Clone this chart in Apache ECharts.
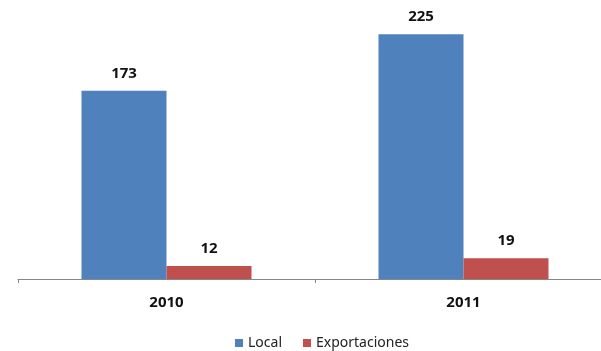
<!DOCTYPE html>
<html>
<head>
<meta charset="utf-8">
<script src="https://cdn.jsdelivr.net/npm/echarts@6/dist/echarts.min.js"></script>
<style>
  html, body { margin: 0; padding: 0; background: #fff; overflow: hidden; }
  /* the plot's right band runs past the window edge, so the canvas is a bit wider */
  #chart { width: 612px; height: 351px; }
</style>
</head>
<body>
<div id="chart"></div>
<script>
// Years on the category axis
const years = ['2010', '2011'];
// Sales by destination
const localValues = [173, 225];
const exportValues = [12, 19];
const seriesNames = ['Local', 'Exportaciones'];

const chart = echarts.init(document.getElementById('chart'), null, { renderer: 'canvas' });

const valueLabel = {
  show: true,
  position: 'top',
  distance: 10,
  fontFamily: 'Noto Sans',
  fontWeight: 'bold',
  fontSize: 15,
  color: '#111'
};

chart.setOption({
  animation: false,
  backgroundColor: '#ffffff',
  grid: { left: 18, top: 7, width: 594, height: 272, containLabel: false },
  legend: {
    data: seriesNames,
    left: 230,
    top: 331,
    icon: 'rect',
    itemWidth: 8,
    itemHeight: 8,
    itemGap: 21,
    textStyle: { fontFamily: 'Noto Sans', fontSize: 14, color: '#222' }
  },
  xAxis: {
    type: 'category',
    data: years,
    axisLine: { lineStyle: { color: '#868686', width: 1 } },
    axisTick: { show: true, length: 4, lineStyle: { color: '#868686' } },
    axisLabel: {
      margin: 16,
      fontFamily: 'Noto Sans',
      fontWeight: 'bold',
      fontSize: 15,
      color: '#111'
    }
  },
  yAxis: {
    type: 'value',
    min: 0,
    max: 250,
    show: false,
    splitLine: { show: false }
  },
  series: [
    {
      name: seriesNames[0],
      type: 'bar',
      data: localValues,
      barWidth: 85,
      barGap: '0%',
      itemStyle: { color: '#4F81BD' },
      label: valueLabel
    },
    {
      name: seriesNames[1],
      type: 'bar',
      data: exportValues,
      barWidth: 85,
      barGap: '0%',
      itemStyle: { color: '#C0504D' },
      label: valueLabel
    }
  ]
});
</script>
</body>
</html>
